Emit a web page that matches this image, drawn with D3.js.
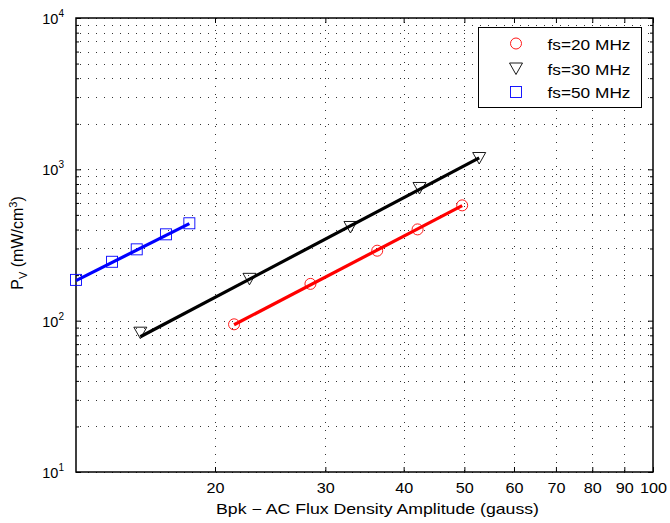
<!DOCTYPE html>
<html>
<head>
<meta charset="utf-8">
<script src="https://cdn.jsdelivr.net/npm/d3@7"></script>
<style>
  body { margin: 0; background: #fff; }
  svg { display: block; font-family: "Liberation Sans", Arial, Helvetica, sans-serif; }
</style>
</head>
<body>
<svg id="chart" width="670" height="523"></svg>
<script>
// data (Bpk in gauss, Pv in mW/cm^3)
const bRed = [21.45, 28.4, 36.3, 42.1, 49.6]
const pRed = [94.6, 175, 290, 401, 578]
const bBlack = [15.2, 22.7, 32.9, 42.4, 52.8]
const pBlack = [83.3, 189, 416, 753, 1188]
const bBlue = [12.0, 13.7, 15.0, 16.7, 18.2]
const pBlue = [186, 245, 296, 372, 440]

// fitted lines, endpoints only
const fitRedB = [21.45, 49.6], fitRedP = [94, 575]
const fitBlackB = [15.2, 52.8], fitBlackP = [78.3, 1190]
const fitBlueB = [12.0, 18.2], fitBlueP = [184, 438]

const legendLabels = ['fs=20 MHz', 'fs=30 MHz', 'fs=50 MHz']
const xTickValues = [20, 30, 40, 50, 60, 70, 80, 90, 100]
const yMajor = [10, 100, 1000, 10000]

//constants
const pLeft = 76, pRight = 653, pTop = 18, pBottom = 472
const svg = d3.select('#chart')

//scales
const x = d3.scaleLog().domain([12, 100]).range([pLeft, pRight])
const y = d3.scaleLog().domain([10, 10000]).range([pBottom, pTop])

// minor y values 2..9 per decade
const yMinor = []
yMajor.slice(0, -1).forEach(d => {
    for (let k = 2; k <= 9; k++) yMinor.push(d * k)
})

//grid
const grid = svg.append('g')
    .attr('stroke', '#333')
    .attr('stroke-width', 1)
    .attr('stroke-dasharray', '1,7')
grid.selectAll('.gy')
    .data(yMajor.concat(yMinor))
    .enter()
    .append('line')
    .attr('x1', pLeft + 4).attr('x2', pRight)
    .attr('y1', d => Math.round(y(d)) + 0.5)
    .attr('y2', d => Math.round(y(d)) + 0.5)
grid.selectAll('.gx')
    .data(xTickValues.slice(0, -1))
    .enter()
    .append('line')
    .attr('y1', pTop + 4).attr('y2', pBottom)
    .attr('x1', d => Math.round(x(d)) + 0.5)
    .attr('x2', d => Math.round(x(d)) + 0.5)

//axes (ticks inside, box all round)
const xAxisB = d3.axisBottom(x).tickValues(xTickValues).tickSize(-5).tickPadding(11).tickFormat(d3.format('d'))
const xAxisT = d3.axisTop(x).tickValues(xTickValues).tickSize(-5).tickFormat('')
const yAxisL = d3.axisLeft(y).tickValues(yMajor).tickSize(-5).tickFormat('')
const yAxisR = d3.axisRight(y).tickValues(yMajor).tickSize(-5).tickFormat('')
const yMinL = d3.axisLeft(y).tickValues(yMinor).tickSize(-3).tickFormat('')
const yMinR = d3.axisRight(y).tickValues(yMinor).tickSize(-3).tickFormat('')

function styleAxis(g) {
    g.select('.domain').remove()
    g.selectAll('line').attr('stroke', '#000')
    g.selectAll('text').attr('fill', '#000').style('font-size', '14px')
        .attr('textLength', d => String(d).length * 9).attr('lengthAdjust', 'spacingAndGlyphs')
}
svg.append('g').attr('transform', `translate(0,${pBottom})`).call(xAxisB).call(styleAxis)
svg.append('g').attr('transform', `translate(0,${pTop})`).call(xAxisT).call(styleAxis)
svg.append('g').attr('transform', `translate(${pLeft},0)`).call(yAxisL).call(styleAxis)
svg.append('g').attr('transform', `translate(${pRight},0)`).call(yAxisR).call(styleAxis)
svg.append('g').attr('transform', `translate(${pLeft},0)`).call(yMinL).call(styleAxis)
svg.append('g').attr('transform', `translate(${pRight},0)`).call(yMinR).call(styleAxis)

svg.append('rect')
    .attr('x', pLeft).attr('y', pTop)
    .attr('width', pRight - pLeft).attr('height', pBottom - pTop)
    .attr('fill', 'none').attr('stroke', '#000').attr('stroke-width', 1.5)

// y tick labels 10^n
const yLab = svg.append('g').style('font-size', '14.5px')
yMajor.forEach(d => {
    const t = yLab.append('text')
        .attr('x', 64).attr('y', y(d) + 6)
        .attr('text-anchor', 'end')
    t.append('tspan').text('10')
    t.append('tspan').attr('dy', -7).style('font-size', '10px').text(Math.round(Math.log10(d)))
})

//fit lines
const line = d3.line().x(d => x(d[0])).y(d => y(d[1]))
const fits = [
    [d3.zip(fitRedB, fitRedP), '#ff0000'],
    [d3.zip(fitBlackB, fitBlackP), '#000000'],
    [d3.zip(fitBlueB, fitBlueP), '#0000ff']
]
fits.forEach(([pts, c]) => {
    svg.append('path')
        .attr('d', line(pts))
        .attr('fill', 'none')
        .attr('stroke', c)
        .attr('stroke-width', 3.2)
})

//markers
const triPath = 'M-6.5,-5.5L6.5,-5.5L0,6Z'
function circles(g, data) {
    g.selectAll('circle').data(data).enter().append('circle')
        .attr('cx', d => x(d[0])).attr('cy', d => y(d[1])).attr('r', 5.5)
        .attr('fill', 'none').attr('stroke', '#ff0000').attr('stroke-width', 0.9)
}
function triangles(g, data) {
    g.selectAll('path').data(data).enter().append('path')
        .attr('d', triPath)
        .attr('transform', d => `translate(${x(d[0])},${y(d[1])})`)
        .attr('fill', 'none').attr('stroke', '#000').attr('stroke-width', 0.9)
}
function squares(g, data) {
    g.selectAll('rect').data(data).enter().append('rect')
        .attr('x', d => x(d[0]) - 5.5).attr('y', d => y(d[1]) - 5.5)
        .attr('width', 11).attr('height', 11)
        .attr('fill', 'none').attr('stroke', '#0000ff').attr('stroke-width', 0.9)
}
circles(svg.append('g'), d3.zip(bRed, pRed))
triangles(svg.append('g'), d3.zip(bBlack, pBlack))
squares(svg.append('g'), d3.zip(bBlue, pBlue))

//legend
const lg = svg.append('g')
lg.append('rect')
    .attr('x', 478.5).attr('y', 27.5).attr('width', 163).attr('height', 80)
    .attr('fill', '#fff').attr('stroke', '#000').attr('stroke-width', 1)
const legY = [43.5, 68.5, 92]
lg.append('circle').attr('cx', 516).attr('cy', legY[0]).attr('r', 5.5)
    .attr('fill', 'none').attr('stroke', '#ff0000').attr('stroke-width', 0.9)
lg.append('path').attr('d', triPath).attr('transform', `translate(516,${legY[1]})`)
    .attr('fill', 'none').attr('stroke', '#000').attr('stroke-width', 0.9)
lg.append('rect').attr('x', 510.5).attr('y', legY[2] - 5.5).attr('width', 11).attr('height', 11)
    .attr('fill', 'none').attr('stroke', '#0000ff').attr('stroke-width', 0.9)
legendLabels.forEach((s, i) => {
    lg.append('text')
        .attr('x', 547.5).attr('y', legY[i] + 6)
        .style('font-size', '14.5px')
        .attr('textLength', 83).attr('lengthAdjust', 'spacingAndGlyphs')
        .text(s)
})

//labels
svg.append('text')
    .attr('x', 216).attr('y', 513.5)
    .style('font-size', '14.5px')
    .attr('textLength', 323).attr('lengthAdjust', 'spacingAndGlyphs')
    .text('Bpk \u2212 AC Flux Density Amplitude (gauss)')

const yl = svg.append('text')
    .attr('transform', 'translate(23,243) rotate(-90)')
    .attr('text-anchor', 'middle')
    .style('font-size', '16px')
yl.append('tspan').text('P')
yl.append('tspan').attr('dy', 4).style('font-size', '11px').text('V')
yl.append('tspan').attr('dy', -4).text(' (mW/cm')
yl.append('tspan').attr('dy', -6).style('font-size', '11px').text('3')
yl.append('tspan').attr('dy', 6).text(')')
</script>
</body>
</html>
